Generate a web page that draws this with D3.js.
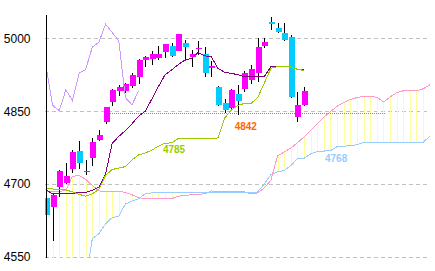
<!DOCTYPE html>
<html>
<head>
<meta charset="utf-8">
<script src="https://cdn.jsdelivr.net/npm/d3@7"></script>
<style>
  body { margin: 0; background: #fff; }
  svg { display: block; }
</style>
</head>
<body>
<svg id="chart" width="435" height="271"></svg>
<script>
// daily candles (oldest first)
var opens  = [4671, 4653, 4695, 4702, 4731, 4768, 4724, 4755, 4790, 4828, 4870, 4890, 4892, 4902, 4921, 4955, 4957, 4960, 4971, 4984,
              4975, 4990, 4962, 4980, 4968, 4938, 4899, 4866, 4856, 4886, 4895, 4914, 4928, 4983, 5034, 5021, 5010, 5002, 4838, 4863];
var highs  = [4673, 4679, 4728, 4744, 4770, 4788, 4749, 4795, 4812, 4858, 4895, 4904, 4909, 4928, 4957, 4964, 4973, 4984, 4988, 4990,
              5009, 4997, 4975, 4994, 4983, 4954, 4902, 4875, 4895, 4904, 4932, 4945, 5000, 5000, 5043, 5031, 5032, 5007, 4889, 4899];
var lows   = [4632, 4582, 4673, 4701, 4723, 4731, 4719, 4738, 4788, 4824, 4861, 4881, 4887, 4898, 4905, 4940, 4945, 4956, 4960, 4961,
              4973, 4954, 4940, 4965, 4920, 4920, 4861, 4846, 4854, 4843, 4890, 4905, 4910, 4981, 5018, 5010, 4995, 4878, 4827, 4860];
var closes = [4635, 4678, 4727, 4717, 4766, 4744, 4727, 4787, 4801, 4858, 4894, 4899, 4906, 4925, 4955, 4962, 4968, 4968, 4988, 4964,
              5009, 4981, 4968, 4981, 4928, 4943, 4862, 4851, 4894, 4872, 4928, 4936, 4982, 4992, 5029, 5012, 4995, 4878, 4863, 4892];

// ichimoku lines
var tenkan = [4688, 4680, 4680, 4680, 4681, 4683, 4683, 4687, 4694, 4720, 4784, 4798, 4810, 4824, 4840, 4850, 4875, 4901, 4925, 4935,
              4946, 4955, 4959, 4971, 4964, 4962, 4938, 4930, 4928, 4925, 4921, 4921, 4921, 4921, 4942, 4942, 4942, 4942, 4936, 4935];
var kijun  = [4690, 4690, 4689, 4688, 4684, 4679, 4675, 4680, 4689, 4718, 4730, 4733, 4736, 4750, 4760, 4764, 4770, 4778, 4784, 4785,
              4794, 4794, 4794, 4794, 4794, 4794, 4795, 4836, 4852, 4862, 4866, 4866, 4878, 4908, 4938, 4942, 4942, 4942, 4936, 4934];
var spanA  = [4685, 4685, 4685, 4687, 4716, 4718, 4710, 4697, 4686, 4685, 4685, 4685, 4683, 4678, 4672, 4670, 4670, 4670, 4670, 4670,
              4675, 4677, 4678, 4679, 4680, 4686, 4684, 4684, 4684, 4684, 4684, 4680, 4682, 4692, 4708, 4758, 4766, 4774, 4785, 4797,
              4810, 4824, 4838, 4849, 4860, 4868, 4874, 4878, 4881, 4880, 4879, 4869, 4879, 4888, 4892, 4892, 4892, 4896, 4904, 4911];
var spanB  = [4500, 4500, 4500, 4500, 4500, 4500, 4500, 4588, 4598, 4618, 4631, 4634, 4659, 4665, 4670, 4680, 4682, 4682, 4682, 4682,
              4682, 4682, 4682, 4682, 4682, 4682, 4682, 4682, 4682, 4682, 4682, 4682, 4684, 4700, 4720, 4725, 4728, 4738, 4752, 4753,
              4762, 4767, 4768, 4769, 4777, 4778, 4779, 4781, 4786, 4786, 4786, 4786, 4786, 4786, 4786, 4786, 4786, 4786, 4798, 4808];
var lagShift = 25;

var yTicks = [4550, 4700, 4850, 5000];
var support = 4842;
var notes = ["4785", "4842", "4768"];

var svg = d3.select("#chart");
var plotL = 45, plotR = 430, plotT = 14, plotB = 257;

var x = d3.scaleLinear().domain([0, 39]).range([46, 304]);
var y = d3.scaleLinear().domain([4550, 5050]).range([plotB, plotT]);
var px = function(i) { return Math.round(x(i)) + 0.5; };

svg.append("defs").append("clipPath").attr("id", "plot")
  .append("rect").attr("x", plotL).attr("y", plotT).attr("width", plotR - plotL).attr("height", plotB - plotT + 1);

// grid
svg.append("g").selectAll("line").data(yTicks).enter().append("line")
  .attr("x1", plotL).attr("x2", plotR)
  .attr("y1", function(d) { return Math.round(y(d)) + 0.5; })
  .attr("y2", function(d) { return Math.round(y(d)) + 0.5; })
  .attr("stroke", "#c0c0c0").attr("stroke-dasharray", "4,3")
  .attr("shape-rendering", "crispEdges");

var plot = svg.append("g").attr("clip-path", "url(#plot)");

// cloud hatch
plot.append("g").selectAll("line").data(spanA).enter().append("line")
  .attr("x1", function(d, i) { return px(i); })
  .attr("x2", function(d, i) { return px(i); })
  .attr("y1", function(d) { return y(d); })
  .attr("y2", function(d, i) { return y(spanB[i]); })
  .attr("stroke", "#ffff99").attr("shape-rendering", "crispEdges");

function drawLine(values, color, offset) {
  var line = d3.line()
    .x(function(d, i) { return x(i + (offset || 0)); })
    .y(function(d) { return y(d); });
  plot.append("path").datum(values)
    .attr("d", line).attr("fill", "none")
    .attr("stroke", color).attr("stroke-width", 1)
    .attr("shape-rendering", "crispEdges");
}

drawLine(spanA, "#ff99cc");
drawLine(spanB, "#99ccff");

// support level
plot.append("line")
  .attr("x1", x(9.4)).attr("x2", x(51.3))
  .attr("y1", Math.round(y(support)) - 1.5).attr("y2", Math.round(y(support)) - 1.5)
  .attr("stroke", "#ff6600").attr("stroke-dasharray", "1,1")
  .attr("shape-rendering", "crispEdges");

// candles
var candles = plot.append("g").selectAll("g").data(opens).enter().append("g");
candles.append("line")
  .attr("x1", function(d, i) { return px(i); })
  .attr("x2", function(d, i) { return px(i); })
  .attr("y1", function(d, i) { return y(highs[i]); })
  .attr("y2", function(d, i) { return y(lows[i]); })
  .attr("stroke", "#000").attr("shape-rendering", "crispEdges");
candles.append("rect")
  .attr("x", function(d, i) { return Math.round(x(i)) - 2; })
  .attr("width", 6)
  .attr("y", function(d, i) { return Math.round(y(Math.max(d, closes[i]))); })
  .attr("height", function(d, i) { return Math.max(1, Math.round(Math.abs(y(d) - y(closes[i])))); })
  .attr("fill", function(d, i) { return closes[i] >= d ? "#ff00ff" : "#00ccff"; })
  .attr("shape-rendering", "crispEdges");

drawLine(tenkan, "#800080");
drawLine(kijun, "#99cc00");
drawLine(closes.slice(lagShift), "#cc99ff");

// axis
var axis = svg.append("g").attr("transform", "translate(" + (plotL + 0.5) + ",0)")
  .call(d3.axisLeft(y).tickValues(yTicks).tickSize(0).tickPadding(15).tickFormat(d3.format("d")));
axis.select(".domain").attr("stroke", "#000").attr("shape-rendering", "crispEdges");
axis.selectAll("text")
  .attr("fill", "#000")
  .style("font-family", "'Liberation Sans Narrow', 'Liberation Sans', Arial, sans-serif")
  .style("font-size", "12px");

// value notes
var noteAt = [
  { i: 19.35, v: kijun[19], dy: 10, color: "#99cc00" },
  { i: 30.2, v: support, dy: 15, color: "#ff6600" },
  { i: 43.85, v: spanB[42], dy: 11, color: "#99ccff" }
];
svg.append("g").selectAll("text").data(notes).enter().append("text")
  .attr("x", function(d, i) { return x(noteAt[i].i); })
  .attr("y", function(d, i) { return y(noteAt[i].v) + noteAt[i].dy; })
  .attr("text-anchor", "middle")
  .attr("fill", function(d, i) { return noteAt[i].color; })
  .style("font-family", "'Liberation Sans', Arial, sans-serif")
  .style("font-size", "10px").style("font-weight", "bold")
  .text(function(d) { return d; });
</script>
</body>
</html>
